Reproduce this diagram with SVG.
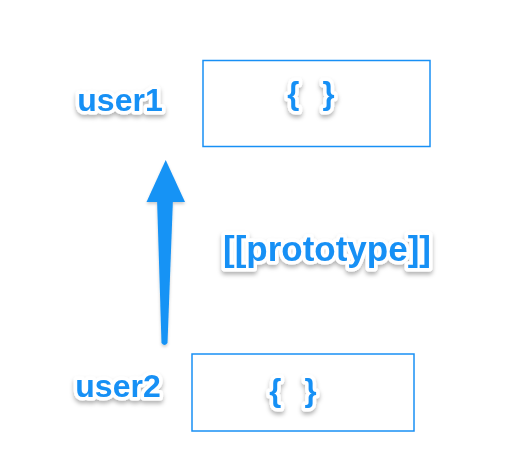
<svg xmlns="http://www.w3.org/2000/svg" width="530" height="474" viewBox="0 0 530 474">
  <defs>
    <filter id="sh" x="-20%" y="-30%" width="140%" height="170%">
      <feDropShadow dx="0" dy="3" stdDeviation="2" flood-color="#000" flood-opacity="0.3"/>
    </filter>
    <filter id="ash" x="-50%" y="-10%" width="200%" height="130%">
      <feDropShadow dx="0" dy="2" stdDeviation="1.5" flood-color="#000" flood-opacity="0.2"/>
    </filter>
  </defs>
  <style>
    .lbl { font-family: "Liberation Sans", Arial, sans-serif; font-weight: bold; fill: #1890f5; stroke: #ffffff; stroke-width: 7; stroke-linejoin: round; paint-order: stroke; filter: url(#sh); }
    .br { letter-spacing: 2px; }
    .box { fill: #ffffff; stroke: #1890f5; stroke-width: 1.5; }
  </style>
  <rect width="530" height="474" fill="#ffffff"/>
  <g id="user1">
    <rect class="box" x="203" y="60.5" width="227" height="86"/>
    <text class="lbl" x="120" y="111" font-size="32" text-anchor="middle">user1</text>
    <text class="lbl br" x="312" y="104" font-size="31" text-anchor="middle" xml:space="preserve">{  }</text>
  </g>
  <g id="user2">
    <rect class="box" x="192" y="354" width="222" height="77"/>
    <text class="lbl" x="118" y="397" font-size="32" text-anchor="middle">user2</text>
    <text class="lbl br" x="294" y="401" font-size="31" text-anchor="middle" xml:space="preserve">{  }</text>
  </g>
  <g id="connectors">
    <g filter="url(#ash)" fill="#1793f5">
      <path d="M157,198 L173,198 L167.5,343 Q164.5,347 161.5,343 Z"/>
      <polygon points="146.5,202 165.7,160 185,202"/>
    </g>
    <text class="lbl" x="327" y="261" font-size="35" text-anchor="middle">[[prototype]]</text>
  </g>
</svg>
